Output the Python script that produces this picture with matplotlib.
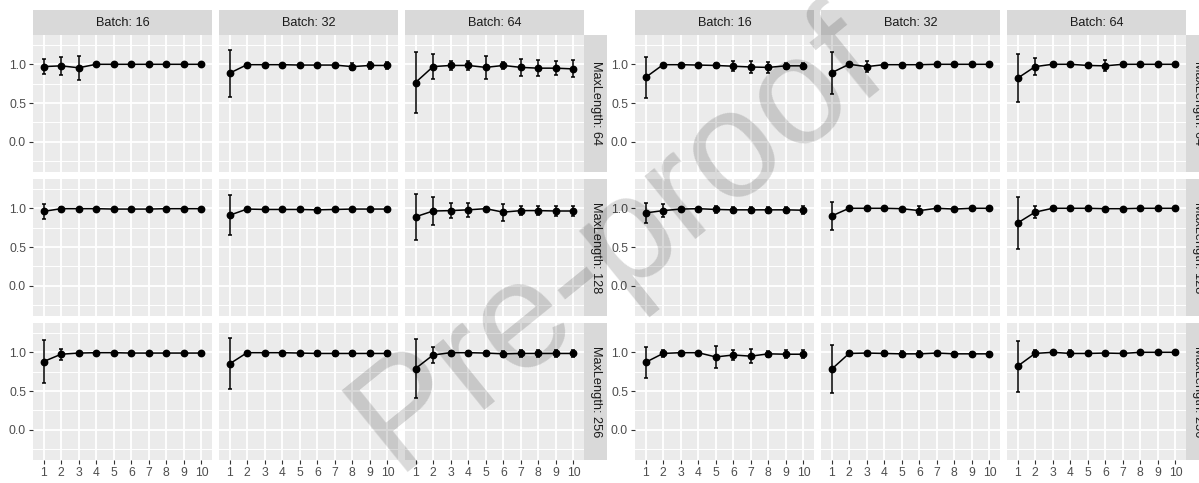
import matplotlib.pyplot as plt

plt.rcParams['font.family'] = ['Liberation Sans', 'DejaVu Sans']

steps = list(range(1, 11))
max_lengths = [64, 128, 256]
batches = [16, 32, 64]

# left run: mean accuracy and sd per step
left_64_16 = [0.97, 0.98, 0.955, 1.0, 1.0, 1.0, 1.0, 1.0, 1.0, 1.0]
left_64_16_sd = [0.10, 0.12, 0.155, 0.005, 0.005, 0, 0, 0, 0, 0.005]
left_64_32 = [0.885, 0.995, 0.995, 0.995, 0.99, 0.99, 0.99, 0.97, 0.985, 0.985]
left_64_32_sd = [0.305, 0.01, 0.01, 0.01, 0.02, 0.02, 0.02, 0.05, 0.04, 0.04]
left_64_64 = [0.765, 0.97, 0.985, 0.985, 0.96, 0.985, 0.96, 0.95, 0.95, 0.94]
left_64_64_sd = [0.39, 0.16, 0.055, 0.055, 0.15, 0.04, 0.11, 0.10, 0.09, 0.11]
left_128_16 = [0.96, 0.995, 0.995, 0.995, 0.99, 0.99, 0.99, 0.995, 0.995, 0.995]
left_128_16_sd = [0.10, 0.02, 0.01, 0.01, 0.01, 0.01, 0.01, 0.01, 0.01, 0.01]
left_128_32 = [0.91, 0.99, 0.985, 0.985, 0.985, 0.98, 0.985, 0.99, 0.99, 0.99]
left_128_32_sd = [0.26, 0.02, 0.02, 0.02, 0.02, 0.02, 0.02, 0.01, 0.01, 0.01]
left_128_64 = [0.89, 0.965, 0.97, 0.98, 0.995, 0.95, 0.97, 0.97, 0.965, 0.965]
left_128_64_sd = [0.30, 0.18, 0.10, 0.09, 0.02, 0.11, 0.06, 0.06, 0.06, 0.06]
left_256_16 = [0.88, 0.975, 0.99, 0.995, 0.995, 0.99, 0.99, 0.99, 0.99, 0.99]
left_256_16_sd = [0.275, 0.07, 0.02, 0.01, 0.01, 0.02, 0.02, 0.02, 0.02, 0.02]
left_256_32 = [0.85, 0.995, 0.995, 0.995, 0.99, 0.985, 0.985, 0.985, 0.985, 0.985]
left_256_32_sd = [0.33, 0.01, 0.01, 0.01, 0.02, 0.03, 0.03, 0.03, 0.03, 0.03]
left_256_64 = [0.79, 0.965, 0.995, 0.995, 0.99, 0.98, 0.985, 0.985, 0.985, 0.985]
left_256_64_sd = [0.38, 0.10, 0.02, 0.02, 0.03, 0.04, 0.04, 0.04, 0.04, 0.04]

# right run
right_64_16 = [0.83, 0.995, 0.995, 0.99, 0.985, 0.975, 0.965, 0.96, 0.98, 0.98]
right_64_16_sd = [0.265, 0.01, 0.01, 0.01, 0.03, 0.065, 0.075, 0.07, 0.04, 0.04]
right_64_32 = [0.89, 1.0, 0.97, 0.995, 0.995, 0.995, 1.0, 1.0, 1.0, 1.0]
right_64_32_sd = [0.27, 0.01, 0.07, 0.01, 0.01, 0.01, 0, 0, 0, 0]
right_64_64 = [0.82, 0.97, 1.0, 1.0, 0.985, 0.98, 1.0, 1.0, 1.0, 1.0]
right_64_64_sd = [0.31, 0.11, 0, 0, 0.02, 0.07, 0, 0, 0, 0]
right_128_16 = [0.94, 0.97, 0.99, 0.995, 0.985, 0.98, 0.98, 0.98, 0.98, 0.975]
right_128_16_sd = [0.125, 0.08, 0.02, 0.01, 0.04, 0.04, 0.04, 0.04, 0.04, 0.05]
right_128_32 = [0.90, 1.0, 1.0, 1.0, 0.995, 0.97, 1.0, 0.99, 1.0, 1.0]
right_128_32_sd = [0.18, 0, 0, 0, 0.01, 0.06, 0, 0.01, 0, 0]
right_128_64 = [0.81, 0.95, 1.0, 1.0, 1.0, 0.995, 0.995, 1.0, 1.0, 1.0]
right_128_64_sd = [0.33, 0.08, 0, 0, 0, 0.01, 0.01, 0, 0, 0]
right_256_16 = [0.87, 0.985, 0.995, 0.995, 0.94, 0.965, 0.95, 0.98, 0.975, 0.975]
right_256_16_sd = [0.20, 0.05, 0.01, 0.01, 0.14, 0.07, 0.09, 0.04, 0.05, 0.05]
right_256_32 = [0.78, 0.985, 0.99, 0.985, 0.98, 0.98, 0.99, 0.98, 0.98, 0.98]
right_256_32_sd = [0.31, 0.03, 0.02, 0.03, 0.04, 0.04, 0.02, 0.03, 0.03, 0.03]
right_256_64 = [0.82, 0.985, 1.0, 0.985, 0.985, 0.99, 0.985, 1.0, 1.0, 1.0]
right_256_64_sd = [0.33, 0.04, 0, 0.04, 0.02, 0.01, 0.02, 0, 0, 0]

left = {
    (64, 16): (left_64_16, left_64_16_sd), (64, 32): (left_64_32, left_64_32_sd),
    (64, 64): (left_64_64, left_64_64_sd), (128, 16): (left_128_16, left_128_16_sd),
    (128, 32): (left_128_32, left_128_32_sd), (128, 64): (left_128_64, left_128_64_sd),
    (256, 16): (left_256_16, left_256_16_sd), (256, 32): (left_256_32, left_256_32_sd),
    (256, 64): (left_256_64, left_256_64_sd),
}
right = {
    (64, 16): (right_64_16, right_64_16_sd), (64, 32): (right_64_32, right_64_32_sd),
    (64, 64): (right_64_64, right_64_64_sd), (128, 16): (right_128_16, right_128_16_sd),
    (128, 32): (right_128_32, right_128_32_sd), (128, 64): (right_128_64, right_128_64_sd),
    (256, 16): (right_256_16, right_256_16_sd), (256, 32): (right_256_32, right_256_32_sd),
    (256, 64): (right_256_64, right_256_64_sd),
}

W, H = 1199, 483
fig = plt.figure(figsize=(W / 100, H / 100), dpi=100)


def box(x0, y0, w, h):
    # pixel box (top-left origin) -> figure fraction
    return [x0 / W, 1 - (y0 + h) / H, w / W, h / H]


def strip(rect, text, rotation=0):
    ax = fig.add_axes(rect)
    ax.set_facecolor('#D9D9D9')
    ax.set_xticks([])
    ax.set_yticks([])
    for s in ax.spines.values():
        s.set_visible(False)
    ax.text(0.5, 0.5, text, transform=ax.transAxes, ha='center', va='center',
            rotation=rotation, fontsize=9.2, color='#1A1A1A')


PW, PH = 179, 137


def facet_grid(series, dx):
    for r, ml in enumerate(max_lengths):
        y0 = 35 + r * 144
        for c, b in enumerate(batches):
            x0 = dx + 33 + c * 186
            ax = fig.add_axes(box(x0, y0, PW, PH))
            ax.set_facecolor('#EBEBEB')
            mean, sd = series[(ml, b)]
            ax.errorbar(steps, mean, yerr=sd, color='black', lw=1.1,
                        marker='o', ms=4.6, capsize=1.6, elinewidth=1.1,
                        capthick=1.1)
            ax.set_xlim(0.4, 10.6)
            ax.set_ylim(-0.39, 1.378)
            ax.set_xticks(steps)
            ax.set_yticks([0, 0.5, 1.0])
            ax.set_yticks([-0.25, 0.25, 0.75, 1.25], minor=True)
            ax.grid(which='major', color='white', lw=1.3)
            ax.grid(which='minor', axis='y', color='white', lw=0.7)
            ax.set_axisbelow(True)
            for s in ax.spines.values():
                s.set_visible(False)
            ax.tick_params(which='major', length=3.2, width=0.8, color='#333333',
                           labelcolor='#4D4D4D', labelsize=8.7, pad=1.8)
            ax.tick_params(which='minor', length=0)
            if c == 0:
                ax.set_yticklabels(['0.0', '0.5', '1.0'])
            else:
                ax.tick_params(axis='y', left=False, labelleft=False)
            if r == len(max_lengths) - 1:
                ax.set_xticklabels([str(s) for s in steps])
            else:
                ax.tick_params(axis='x', bottom=False, labelbottom=False)
            if r == 0:
                strip(box(x0, 10, PW, 25), f'Batch: {b}')
        strip(box(dx + 584, y0, 23, PH), f'MaxLength: {ml}', rotation=-90)


facet_grid(left, 0)
facet_grid(right, 602)

fig.text(618 / W, 1 - 242 / H, 'Pre-proof', rotation=39, ha='center',
         va='center', fontsize=110, color='black', alpha=0.15, zorder=100)

fig.savefig('out.png', dpi=100)
